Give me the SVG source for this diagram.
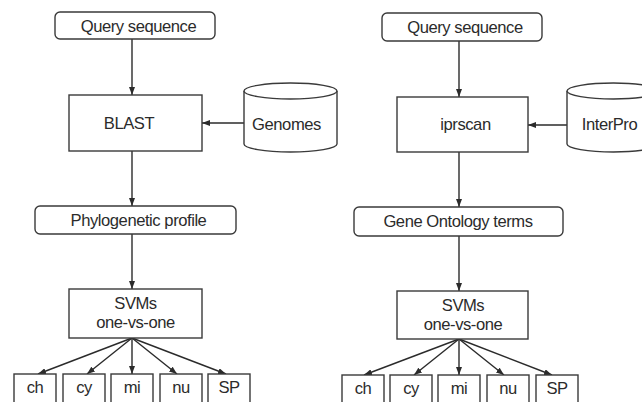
<svg xmlns="http://www.w3.org/2000/svg" width="642" height="402" viewBox="0 0 642 402">
  <defs>
    <marker id="arrow" viewBox="0 0 8 6" refX="8" refY="3" markerWidth="8" markerHeight="6" markerUnits="userSpaceOnUse" orient="auto">
      <path d="M0,0 L8,3 L0,6 Z" fill="#2b2b2b"/>
    </marker>
  </defs>
  <style>
    .box { fill: #ffffff; stroke: #3a3a3a; stroke-width: 1.4; }
    .lbl { font-family: "Liberation Sans", Arial, sans-serif; font-size: 16.6px; letter-spacing: -0.45px; fill: #2b2b2b; text-anchor: middle; }
    .edge { fill: none; stroke: #2b2b2b; stroke-width: 1.4; marker-end: url(#arrow); }
  </style>
  <rect width="642" height="402" fill="#ffffff"/>

  <!-- connectors -->
  <g id="connectors">
    <!-- phylogenetic profile pipeline -->
    <line class="edge" x1="132" y1="39" x2="132" y2="95"/>
    <line class="edge" x1="244" y1="123" x2="202" y2="123"/>
    <line class="edge" x1="132" y1="151" x2="132" y2="206"/>
    <line class="edge" x1="132" y1="234" x2="132" y2="289"/>
    <line class="edge" x1="132" y1="338" x2="38" y2="374"/>
    <line class="edge" x1="132" y1="338" x2="87" y2="374"/>
    <line class="edge" x1="132" y1="338" x2="132" y2="374"/>
    <line class="edge" x1="132" y1="338" x2="177" y2="374"/>
    <line class="edge" x1="132" y1="338" x2="226" y2="374"/>
    <!-- gene ontology pipeline -->
    <line class="edge" x1="459" y1="41" x2="459" y2="97"/>
    <line class="edge" x1="567" y1="125" x2="528" y2="125"/>
    <line class="edge" x1="459" y1="152" x2="459" y2="207"/>
    <line class="edge" x1="459" y1="236" x2="459" y2="291"/>
    <line class="edge" x1="459" y1="339" x2="364" y2="375"/>
    <line class="edge" x1="459" y1="339" x2="414" y2="375"/>
    <line class="edge" x1="459" y1="339" x2="459" y2="375"/>
    <line class="edge" x1="459" y1="339" x2="504" y2="375"/>
    <line class="edge" x1="459" y1="339" x2="552" y2="375"/>
  </g>

  <!-- left pipeline nodes -->
  <g id="query-left">
    <rect class="box" x="55" y="12" width="160" height="27" rx="5"/>
    <text class="lbl" x="138.5" y="32">Query sequence</text>
  </g>
  <g id="blast">
    <rect class="box" x="69" y="95" width="133" height="56"/>
    <text class="lbl" x="129" y="129">BLAST</text>
  </g>
  <g id="genomes">
    <path class="box" d="M244,91 L244,144 A46.5,8 0 0 0 337,144 L337,91"/>
    <ellipse class="box" cx="290.5" cy="91" rx="46.5" ry="8"/>
    <text class="lbl" x="286.5" y="130">Genomes</text>
  </g>
  <g id="phylo-profile">
    <rect class="box" x="35" y="206" width="201" height="28" rx="5"/>
    <text class="lbl" x="138.5" y="226">Phylogenetic profile</text>
  </g>
  <g id="svm-left">
    <rect class="box" x="69" y="289" width="133" height="49"/>
    <text class="lbl" x="135.5" y="309">SVMs</text>
    <text class="lbl" x="135.5" y="328">one-vs-one</text>
  </g>
  <g id="left-ch"><rect class="box" x="14" y="374" width="42" height="32"/><text class="lbl" x="35" y="393">ch</text></g>
  <g id="left-cy"><rect class="box" x="63" y="374" width="42" height="32"/><text class="lbl" x="84" y="393">cy</text></g>
  <g id="left-mi"><rect class="box" x="111" y="374" width="42" height="32"/><text class="lbl" x="132" y="393">mi</text></g>
  <g id="left-nu"><rect class="box" x="160" y="374" width="42" height="32"/><text class="lbl" x="181" y="393">nu</text></g>
  <g id="left-sp"><rect class="box" x="208" y="374" width="42" height="32"/><text class="lbl" x="229" y="393">SP</text></g>

  <!-- right pipeline nodes -->
  <g id="query-right">
    <rect class="box" x="382" y="13" width="160" height="28" rx="5"/>
    <text class="lbl" x="465" y="33">Query sequence</text>
  </g>
  <g id="iprscan">
    <rect class="box" x="397" y="97" width="131" height="55"/>
    <text class="lbl" x="465.5" y="130">iprscan</text>
  </g>
  <g id="interpro">
    <path class="box" d="M567,91 L567,144 A46.5,8 0 0 0 660,144 L660,91"/>
    <ellipse class="box" cx="613.5" cy="91" rx="46.5" ry="8"/>
    <text class="lbl" x="609.5" y="129.5">InterPro</text>
  </g>
  <g id="go-terms">
    <rect class="box" x="354" y="207" width="209" height="29" rx="5"/>
    <text class="lbl" x="458" y="227">Gene Ontology terms</text>
  </g>
  <g id="svm-right">
    <rect class="box" x="397" y="291" width="131" height="48"/>
    <text class="lbl" x="463" y="311">SVMs</text>
    <text class="lbl" x="463" y="330">one-vs-one</text>
  </g>
  <g id="right-ch"><rect class="box" x="342" y="375" width="42" height="32"/><text class="lbl" x="363" y="394">ch</text></g>
  <g id="right-cy"><rect class="box" x="390" y="375" width="42" height="32"/><text class="lbl" x="411" y="394">cy</text></g>
  <g id="right-mi"><rect class="box" x="438" y="375" width="42" height="32"/><text class="lbl" x="459" y="394">mi</text></g>
  <g id="right-nu"><rect class="box" x="487" y="375" width="42" height="32"/><text class="lbl" x="508" y="394">nu</text></g>
  <g id="right-sp"><rect class="box" x="536" y="375" width="42" height="32"/><text class="lbl" x="557" y="394">SP</text></g>
</svg>
